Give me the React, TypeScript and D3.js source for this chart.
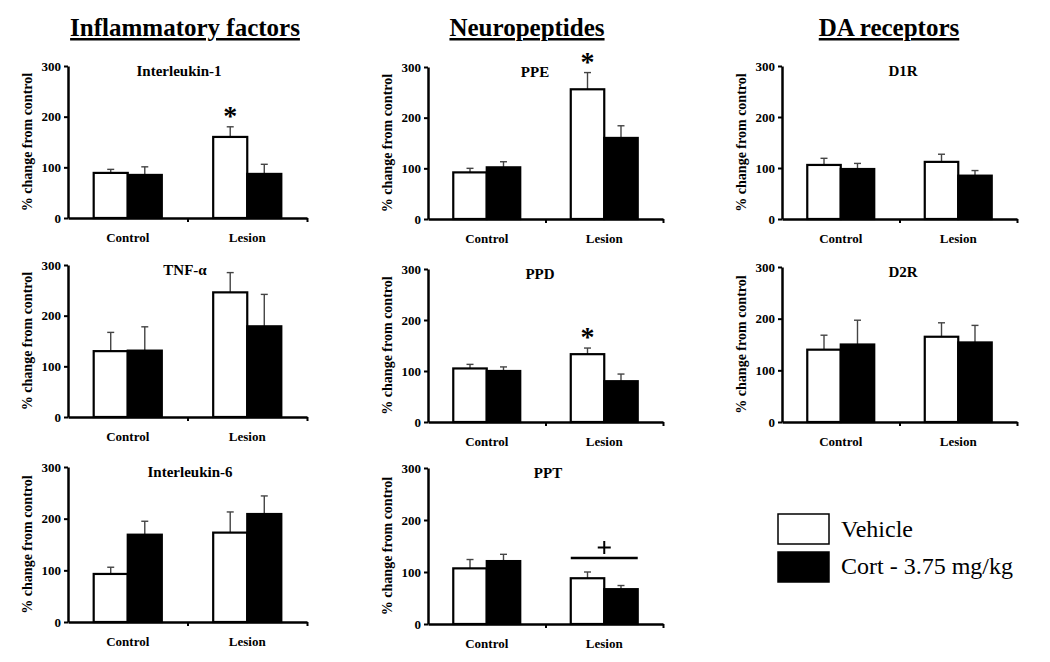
import React, { useRef, useEffect } from "react";
import { select, scaleLinear, scaleBand, axisLeft, axisBottom } from "d3";

// panel titles, row by row
const panelTitles = ["Interleukin-1", "PPE", "D1R", "TNF-α", "PPD", "D2R", "Interleukin-6", "PPT"];
const groups = ["Control", "Lesion"];
const seriesNames = ["Vehicle", "Cort - 3.75 mg/kg"];
const yTicks = [0, 100, 200, 300];
const headers = ["Inflammatory factors", "Neuropeptides", "DA receptors"];

// [control, lesion] per panel
const vehicleMean = [[89, 160], [92, 256], [106, 112], [130, 246], [105, 133], [140, 165], [93, 173], [107, 88]];
const vehicleSem = [[7, 20], [8, 33], [13, 15], [37, 39], [8, 12], [28, 27], [13, 40], [17, 12]];
const cortMean = [[85, 87], [102, 160], [98, 85], [131, 179], [100, 80], [150, 154], [169, 209], [121, 67]];
const cortSem = [[16, 19], [11, 24], [11, 10], [47, 63], [8, 14], [47, 33], [26, 35], [13, 7]];
const asteriskOn = ["Interleukin-1", "PPE", "PPD"];
const plusOn = ["PPT"];

// layout
const colX = [[68, 307], [428, 663], [782, 1017]];
const rowY = [[66, 218], [67, 219], [66, 219], [265, 417], [269, 422], [267, 422], [467, 622], [468, 624]];
const titleX = [179, 535, 903, 185, 540, 903, 190, 548];
const headerX = [185, 527, 889];
const font = "'Liberation Serif', 'Times New Roman', serif";

export default function App() {
    const svgRef = useRef(null);

    useEffect(() => {
        const svg = select(svgRef.current);
        svg.selectAll("*").remove();

        headers.forEach((h, i) => {
            svg.append("text")
                .attr("x", headerX[i])
                .attr("y", 36)
                .attr("text-anchor", "middle")
                .attr("font-family", font)
                .attr("font-weight", "bold")
                .attr("font-size", 25)
                .attr("text-decoration", "underline")
                .text(h);
        });

        panelTitles.forEach((title, p) => {
            const [x0, x1] = colX[p % 3];
            const [yTop, yBot] = rowY[p];
            const g = svg.append("g");

            const y = scaleLinear().domain([0, 300]).range([yBot, yTop]);
            const x = scaleBand().domain(groups).range([x0, x1]).paddingInner(0.43).paddingOuter(0.215);
            const xs = scaleBand().domain(seriesNames).range([0, x.bandwidth()]);
            const xEdge = scaleLinear().domain([0, 2]).range([x0, x1]);

            // y axis
            const ya = g.append("g")
                .attr("transform", `translate(${x0},0)`)
                .call(axisLeft(y).tickValues(yTicks).tickSize(4).tickSizeOuter(0).tickPadding(3));
            ya.select(".domain").attr("stroke-width", 2.5);
            ya.selectAll(".tick line").attr("stroke-width", 2);
            ya.selectAll("text")
                .attr("font-family", font)
                .attr("font-weight", "bold")
                .attr("font-size", 13)
                .attr("fill", "#000");

            // x axis
            const xa = g.append("g")
                .attr("transform", `translate(0,${yBot})`)
                .call(axisBottom(xEdge).tickValues([1, 2]).tickFormat(() => "").tickSize(4).tickSizeOuter(0));
            xa.select(".domain").attr("stroke-width", 2.5);
            xa.selectAll(".tick line").attr("stroke-width", 2);

            groups.forEach((grp) => {
                g.append("text")
                    .attr("x", x(grp) + x.bandwidth() / 2)
                    .attr("y", yBot + 24)
                    .attr("text-anchor", "middle")
                    .attr("font-family", font)
                    .attr("font-weight", "bold")
                    .attr("font-size", 13)
                    .text(grp);
            });

            // y label
            g.append("text")
                .attr("transform", `translate(${x0 - 36},${(yTop + yBot) / 2}) rotate(-90)`)
                .attr("text-anchor", "middle")
                .attr("font-family", font)
                .attr("font-weight", "bold")
                .attr("font-size", 14)
                .text("% change from control");

            // title
            g.append("text")
                .attr("x", titleX[p])
                .attr("y", yTop + 10)
                .attr("text-anchor", "middle")
                .attr("font-family", font)
                .attr("font-weight", "bold")
                .attr("font-size", 15)
                .text(title);

            const rows = groups.flatMap((grp, gi) => [
                { grp, s: seriesNames[0], v: vehicleMean[p][gi], e: vehicleSem[p][gi], fill: "#fff" },
                { grp, s: seriesNames[1], v: cortMean[p][gi], e: cortSem[p][gi], fill: "#000" },
            ]);

            // error bars
            rows.forEach((d) => {
                const cx = x(d.grp) + xs(d.s) + xs.bandwidth() / 2;
                g.append("line")
                    .attr("x1", cx).attr("x2", cx)
                    .attr("y1", y(d.v)).attr("y2", y(d.v + d.e))
                    .attr("stroke", "#444").attr("stroke-width", 1.4);
                g.append("line")
                    .attr("x1", cx - 3.5).attr("x2", cx + 3.5)
                    .attr("y1", y(d.v + d.e)).attr("y2", y(d.v + d.e))
                    .attr("stroke", "#444").attr("stroke-width", 1.4);
            });

            g.selectAll(".bar")
                .data(rows)
                .join("rect")
                .attr("class", "bar")
                .attr("x", (d) => x(d.grp) + xs(d.s))
                .attr("width", xs.bandwidth())
                .attr("y", (d) => y(d.v))
                .attr("height", (d) => yBot - y(d.v))
                .attr("fill", (d) => d.fill)
                .attr("stroke", "#000")
                .attr("stroke-width", 2.2);

            if (asteriskOn.includes(title)) {
                const d = rows[2];
                g.append("text")
                    .attr("x", x(d.grp) + xs(d.s) + xs.bandwidth() / 2)
                    .attr("y", y(d.v + d.e) - 2)
                    .attr("text-anchor", "middle")
                    .attr("font-family", font)
                    .attr("font-weight", "bold")
                    .attr("font-size", 28)
                    .text("*");
            }

            if (plusOn.includes(title)) {
                const top = Math.max(...rows.slice(2).map((d) => d.v + d.e));
                const ly = y(top) - 14;
                const cx = x("Lesion") + x.bandwidth() / 2;
                const cy = ly - 10.5;
                g.append("line")
                    .attr("x1", x("Lesion")).attr("x2", x("Lesion") + x.bandwidth())
                    .attr("y1", ly).attr("y2", ly)
                    .attr("stroke", "#000").attr("stroke-width", 2.5);
                g.append("path")
                    .attr("d", `M${cx - 6.5},${cy}H${cx + 6.5}M${cx},${cy - 6.5}V${cy + 6.5}`)
                    .attr("stroke", "#000").attr("stroke-width", 2)
                    .attr("fill", "none");
            }
        });

        // legend
        seriesNames.forEach((s, i) => {
            svg.append("rect")
                .attr("x", 778).attr("y", 514 + i * 38)
                .attr("width", 51).attr("height", 30)
                .attr("fill", i === 0 ? "#fff" : "#000")
                .attr("stroke", "#000").attr("stroke-width", 1.5);
            svg.append("text")
                .attr("x", 841).attr("y", 537 + i * 37)
                .attr("font-family", font)
                .attr("font-size", 24)
                .text(s);
        });
    }, []);

    return (
        <svg
            ref={svgRef}
            width={1050}
            height={662}
            style={{ position: "absolute", left: 0, top: 0, background: "#fff" }}
        />
    );
}
